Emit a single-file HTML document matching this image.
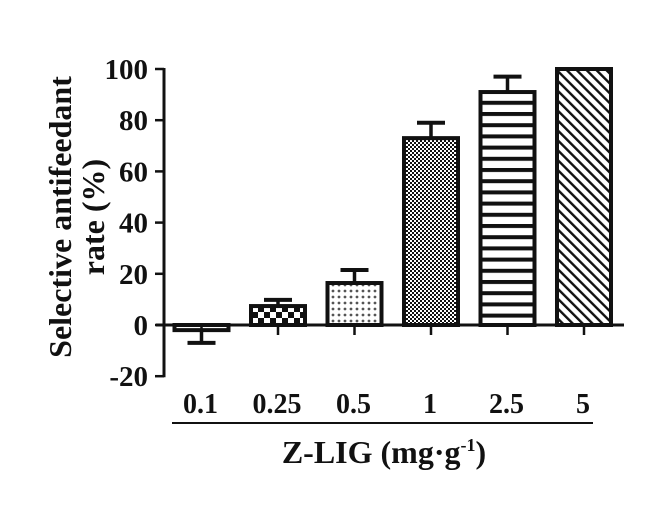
<!DOCTYPE html>
<html><head><meta charset="utf-8"><style>
html,body{margin:0;padding:0;background:#fff;}
svg text{font-family:"Liberation Serif",serif;font-weight:bold;fill:#111;}
</style></head><body>
<svg id="chart" width="660" height="511" viewBox="0 0 660 511" xmlns="http://www.w3.org/2000/svg">
<defs>
<pattern id="p0" width="10" height="10" patternUnits="userSpaceOnUse"><line x1="0" y1="5" x2="6" y2="5" stroke="#333" stroke-width="1.5"/></pattern>
<pattern id="p1" width="12" height="12" patternUnits="userSpaceOnUse"><rect width="6" height="6" fill="#111"/><rect x="6" y="6" width="6" height="6" fill="#111"/></pattern>
<pattern id="p2" width="6" height="6" patternUnits="userSpaceOnUse"><circle cx="3" cy="3" r="1.4" fill="#555"/></pattern>
<pattern id="p3" width="4" height="4" patternUnits="userSpaceOnUse"><rect width="2" height="2" fill="#111"/><rect x="2" y="2" width="2" height="2" fill="#111"/></pattern>
<pattern id="p4" width="10" height="11.2" patternUnits="userSpaceOnUse"><rect y="0" width="10" height="4" fill="#111"/></pattern>
<pattern id="p5" width="7" height="7" patternUnits="userSpaceOnUse" patternTransform="rotate(-45)"><rect width="2.4" height="7" fill="#111"/></pattern>
</defs>
<g id="bars"></g>
<g id="axes"></g>
<text transform="translate(71,217) rotate(-90)" text-anchor="middle" font-size="32">Selective antifeedant</text>
<text transform="translate(104,217) rotate(-90)" text-anchor="middle" font-size="32">rate (%)</text>
<line x1="172" y1="423" x2="593" y2="423" stroke="#111" stroke-width="2"/>
<text x="384" y="463" text-anchor="middle" font-size="32">Z-LIG (mg·g<tspan font-size="18" dy="-12">-1</tspan><tspan dy="12">)</tspan></text>
</svg>
<script>
const categories=["0.1","0.25","0.5","1","2.5","5"];
const values=[-2,7.4,16.4,73,91,100];
const errors=[5,2.4,5.1,6,6,0];
const yTicks=[-20,0,20,40,60,80,100];
const NS="http://www.w3.org/2000/svg";
const y=v=>325-v*2.56;
const x=i=>201.5+i*76.5;
const bw=54;
function mk(t,a,p){const e=document.createElementNS(NS,t);for(const k in a)e.setAttribute(k,a[k]);p.appendChild(e);return e;}
const bars=document.getElementById('bars'),axes=document.getElementById('axes');
values.forEach((v,i)=>{
  const top=Math.min(y(v),y(0)),h=Math.abs(y(v)-y(0));
  const r=mk('rect',{x:x(i)-bw/2,y:top,width:bw,height:h,fill:'url(#p'+i+')',stroke:'#111','stroke-width':4},bars);
  
  
  if(errors[i]>0){
    const s=v>=0?1:-1;
    const ye=y(v+s*errors[i]);
    const g=mk('g',{},bars);
    
    
    mk('line',{x1:x(i),x2:x(i),y1:y(v),y2:ye,stroke:'#111','stroke-width':3.5},g);
    mk('line',{x1:x(i)-14,x2:x(i)+14,y1:ye,y2:ye,stroke:'#111','stroke-width':4},g);
  }
  const t=mk('text',{x:x(i)-1,y:413,'text-anchor':'middle','font-size':28},axes);
  t.textContent=categories[i];
  
  
  mk('line',{x1:x(i),x2:x(i),y1:y(0),y2:y(0)+10,stroke:'#111','stroke-width':2.5},axes);
});
const ya=mk('line',{x1:164,x2:164,y1:y(100)-1,y2:y(-20)+1,stroke:'#111','stroke-width':3},axes);


const xa=mk('line',{x1:156,x2:624,y1:y(0),y2:y(0),stroke:'#111','stroke-width':3},axes);


yTicks.forEach(v=>{
  mk('line',{x1:155,x2:164,y1:y(v),y2:y(v),stroke:'#111','stroke-width':2.5},axes);
  const t=mk('text',{x:148,y:y(v)+10,'text-anchor':'end','font-size':29},axes);
  t.textContent=v;
  
  
});
</script>
</body></html>
